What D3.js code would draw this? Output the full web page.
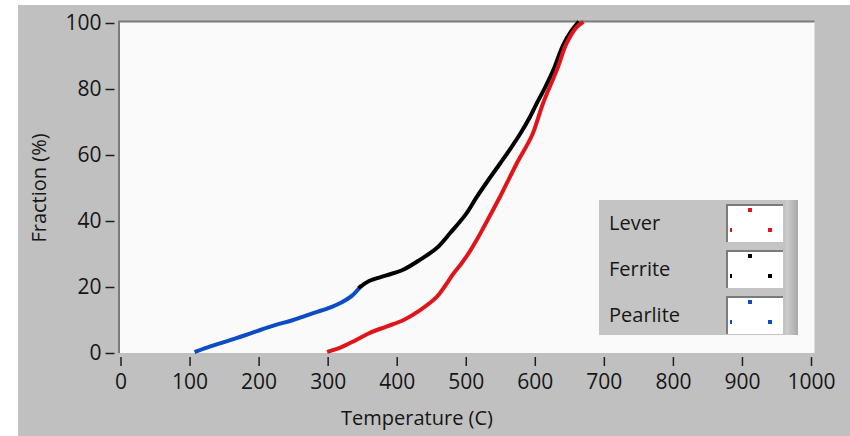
<!DOCTYPE html>
<html>
<head>
<meta charset="utf-8">
<script src="https://cdn.jsdelivr.net/npm/d3@7"></script>
<style>
  body { margin: 0; background: #ffffff; }
  text { font-family: "Segoe UI", "Open Sans", sans-serif; fill: #161616; }
</style>
</head>
<body>
<script>
// Data: temperature (C) vs fraction (%)
var pearliteT = [110, 130, 150, 175, 200, 225, 250, 275, 300, 320, 335, 347];
var pearliteF = [0.5, 2, 3.3, 5, 6.8, 8.5, 10, 11.8, 13.5, 15.3, 17.3, 20];

var ferriteT = [347, 360, 385, 410, 434, 458, 478, 500, 516, 533, 550, 566, 580, 593, 603, 615, 627, 641, 652, 662];
var ferriteF = [20, 21.8, 23.5, 25.3, 28.3, 31.8, 36.5, 42, 47.3, 52.5, 57.5, 62.3, 66.8, 71.5, 75.7, 80.5, 85.8, 93.3, 97.3, 100];

var leverT = [302, 320, 340, 360, 385, 410, 434, 458, 470, 482, 494, 505, 516, 527, 550, 574, 596, 612, 632, 646, 660, 668];
var leverF = [0.5, 1.8, 3.8, 6, 8, 10, 13, 17, 20.3, 24, 27.2, 30.5, 34.3, 38.5, 47.5, 57.5, 66, 75.7, 85.8, 93.8, 98.6, 100];

var xTicks = [0, 100, 200, 300, 400, 500, 600, 700, 800, 900, 1000];
var yTicks = [0, 20, 40, 60, 80, 100];
var legendNames = ["Lever", "Ferrite", "Pearlite"];

// SVG area
var svgWidth = 850;
var svgHeight = 436;

// plot area (data region)
var chartMargin = { top: 23, left: 120.5 };
var chartWidth = 690.5;
var chartHeight = 330;

var colors = { Lever: "#e0151b", Ferrite: "#000000", Pearlite: "#0d4cc4" };

var svg = d3.select("body")
  .append("svg")
  .attr("width", svgWidth)
  .attr("height", svgHeight);

// grey panel
svg.append("rect")
  .attr("x", 18).attr("y", 5)
  .attr("width", svgWidth - 18).attr("height", svgHeight - 5)
  .attr("fill", "#c0c0c0");

var chartGroup = svg.append("g")
  .attr("transform", `translate(${chartMargin.left}, ${chartMargin.top})`);

// white plotting area with sunken border
chartGroup.append("rect")
  .attr("x", -1.5).attr("y", -1.5)
  .attr("width", chartWidth + 5).attr("height", chartHeight + 1.5)
  .attr("fill", "#fafafa");
chartGroup.append("path")
  .attr("d", `M-1.5,${chartHeight} V-1.5 H${chartWidth + 3.5}`)
  .attr("fill", "none")
  .attr("stroke", "#7a7a7a")
  .attr("stroke-width", 2);

var xScale = d3.scaleLinear().domain([0, 1000]).range([0, chartWidth]);
var yScale = d3.scaleLinear().domain([0, 100]).range([chartHeight, 0]);

// axes
var bottomAxis = d3.axisBottom(xScale).tickValues(xTicks).tickFormat(d3.format("d"))
  .tickSize(9).tickPadding(8);
var leftAxis = d3.axisLeft(yScale).tickValues(yTicks).tickFormat(d3.format("d"))
  .tickSize(9).tickPadding(4);

var xAxis = chartGroup.append("g")
  .attr("transform", `translate(0, ${chartHeight + 4})`)
  .call(bottomAxis);
var yAxis = chartGroup.append("g")
  .attr("transform", "translate(-6, 0)")
  .call(leftAxis);

[xAxis, yAxis].forEach(function(ax) {
  ax.select(".domain").remove();
  ax.selectAll(".tick line").attr("stroke", "#1e1e1e").attr("stroke-width", 1.5);
  ax.selectAll(".tick text")
    .attr("fill", "#161616")
    .style("font-size", "21px");
});

// axis titles
svg.append("text")
  .attr("x", 417).attr("y", 425)
  .attr("text-anchor", "middle")
  .style("font-size", "20px")
  .text("Temperature (C)");

svg.append("text")
  .attr("transform", "translate(46, 188) rotate(-90)")
  .attr("text-anchor", "middle")
  .style("font-size", "20px")
  .text("Fraction (%)");

// curves
var line = d3.line()
  .x(d => xScale(d[0]))
  .y(d => yScale(d[1]))
  .curve(d3.curveCatmullRom);

var series = [
  { name: "Pearlite", t: pearliteT, f: pearliteF },
  { name: "Ferrite", t: ferriteT, f: ferriteF },
  { name: "Lever", t: leverT, f: leverF }
];

series.forEach(function(s) {
  var pts = s.t.map((t, i) => [t, s.f[i]]);
  chartGroup.append("path")
    .datum(pts)
    .attr("d", line)
    .attr("fill", "none")
    .attr("stroke", colors[s.name])
    .attr("stroke-width", 4)
    .attr("stroke-linejoin", "round")
    .attr("stroke-linecap", "square");
});

// legend
var legend = svg.append("g").attr("transform", "translate(599, 200)");
var defs = svg.append("defs");
var grad = defs.append("linearGradient").attr("id", "edge");
grad.append("stop").attr("offset", "0%").attr("stop-color", "#d0d0d0");
grad.append("stop").attr("offset", "100%").attr("stop-color", "#a8a8a8");

legend.append("rect")
  .attr("width", 199).attr("height", 135)
  .attr("fill", "#c4c4c4");
legend.append("rect")
  .attr("x", 187).attr("width", 12).attr("height", 135)
  .attr("fill", "url(#edge)");

legendNames.forEach(function(name, i) {
  var row = legend.append("g").attr("transform", `translate(0, ${i * 46})`);
  row.append("text")
    .attr("x", 10).attr("y", 30)
    .style("font-size", "20px")
    .text(name);
  var sw = row.append("g").attr("transform", "translate(127, 4)");
  sw.append("rect")
    .attr("width", 57).attr("height", 38)
    .attr("fill", "#ffffff");
  sw.append("path")
    .attr("d", "M1,38 V1 H57")
    .attr("fill", "none")
    .attr("stroke", "#7a7a7a")
    .attr("stroke-width", 2);
  sw.append("rect").attr("x", 22).attr("y", 4).attr("width", 4).attr("height", 4).attr("fill", colors[name]);
  sw.append("rect").attr("x", 4).attr("y", 24).attr("width", 2).attr("height", 4).attr("fill", colors[name]);
  sw.append("rect").attr("x", 42).attr("y", 24).attr("width", 4).attr("height", 4).attr("fill", colors[name]);
});
</script>
</body>
</html>
